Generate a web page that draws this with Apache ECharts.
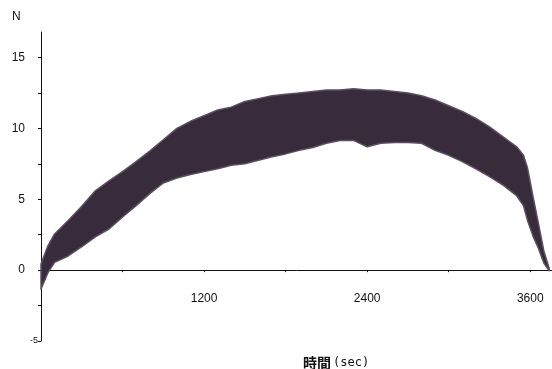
<!DOCTYPE html>
<html>
<head>
<meta charset="utf-8">
<script src="https://cdn.jsdelivr.net/npm/echarts@6/dist/echarts.min.js"></script>
<style>html,body{margin:0;padding:0;background:#fff}#c{width:552px;height:369px}</style>
</head>
<body>
<div id="c"></div>
<script>
// time in seconds
var times = [0,50,100,200,300,400,500,600,700,800,900,1000,1100,1200,1300,1400,1500,1600,1700,1800,1900,2000,2100,2200,2300,2400,2500,2600,2700,2800,2900,3000,3100,3200,3300,3400,3500,3550,3580,3620,3660,3700,3740];
// upper envelope of force band (N)
var upper = [0.43,1.7,2.55,3.5,4.5,5.6,6.3,6.95,7.65,8.4,9.2,10.0,10.5,10.9,11.3,11.5,11.9,12.1,12.3,12.4,12.5,12.6,12.7,12.7,12.8,12.7,12.7,12.6,12.5,12.3,12.0,11.6,11.2,10.7,10.1,9.4,8.7,8.1,7.2,5.2,3.3,1.35,0.1];
// lower envelope of force band (N)
var lower = [-1.35,-0.2,0.55,1.0,1.65,2.35,2.9,3.75,4.55,5.4,6.15,6.5,6.75,6.95,7.15,7.4,7.5,7.75,8.0,8.2,8.45,8.65,8.95,9.15,9.15,8.7,8.95,9.0,9.0,8.95,8.45,8.1,7.65,7.15,6.6,6.0,5.25,4.55,3.5,2.4,1.55,0.5,-0.05];
var xLabels = [1200,2400,3600];
var xTicks = [600,1200,1800,2400,3000,3600];
var yLabels = [-5,0,5,10,15];
var yTicks = [-5,-2.5,0,2.5,5,7.5,10,12.5,15];

var bandData = times.map(function(t,i){return [t, lower[i], upper[i]];});
var col = '#382b3c';
var edge = '#5b4f5f';

var chart = echarts.init(document.getElementById('c'));
chart.setOption({
  animation:false,
  backgroundColor:'#fff',
  grid:{left:41,right:0,top:32,bottom:28,outerBoundsMode:'none',containLabel:false},
  xAxis:{
    type:'value', min:0, max:3760,
    axisLine:{onZero:true,lineStyle:{color:'#111',width:1}},
    axisTick:{show:true,length:2,customValues:xTicks,lineStyle:{color:'#111'}},
    axisLabel:{customValues:xLabels,margin:-48,color:'#111',fontSize:12,fontFamily:'Liberation Sans',
      formatter:function(v){return String(v);}},
    splitLine:{show:false}
  },
  yAxis:{
    type:'value', min:-5, max:16.8,
    axisLine:{show:true,lineStyle:{color:'#111',width:1}},
    axisTick:{show:true,length:3,customValues:yTicks,lineStyle:{color:'#111'}},
    axisLabel:{customValues:yLabels,margin:16,color:'#111',fontSize:12,fontFamily:'Liberation Sans',
      formatter:function(v){return v===-5?'{s|-5}':String(v);},
      rich:{s:{fontSize:9,fontFamily:'Liberation Sans',color:'#111',padding:[0,-13,0,0]}}
    },
    splitLine:{show:false}
  },
  graphic:[
    {type:'text',left:12,top:11,style:{text:'N',fontSize:12,fontFamily:'Liberation Sans',fill:'#111'}},
    {type:'text',x:303,y:363,style:{text:'時間',verticalAlign:'middle',fontSize:14,fontWeight:'bold',fontFamily:'Noto Sans CJK JP',fill:'#111'}},
    {type:'text',x:333,y:363,style:{text:'(sec)',verticalAlign:'middle',fontSize:12,fontFamily:'DejaVu Sans Mono',fill:'#111'}}
  ],
  series:[
    {type:'custom',data:bandData,encode:{x:0,y:[1,2]},
     renderItem:function(params,api){
       if(params.dataIndex!==0) return null;
       var pts=[];
       for(var i=0;i<bandData.length;i++){pts.push(api.coord([bandData[i][0],bandData[i][2]]));}
       for(var j=bandData.length-1;j>=0;j--){pts.push(api.coord([bandData[j][0],bandData[j][1]]));}
       return {type:'polygon',shape:{points:pts},style:{fill:col,stroke:edge,lineWidth:1.5,lineJoin:'round'}};
     }}
  ]
});
</script>
</body>
</html>
